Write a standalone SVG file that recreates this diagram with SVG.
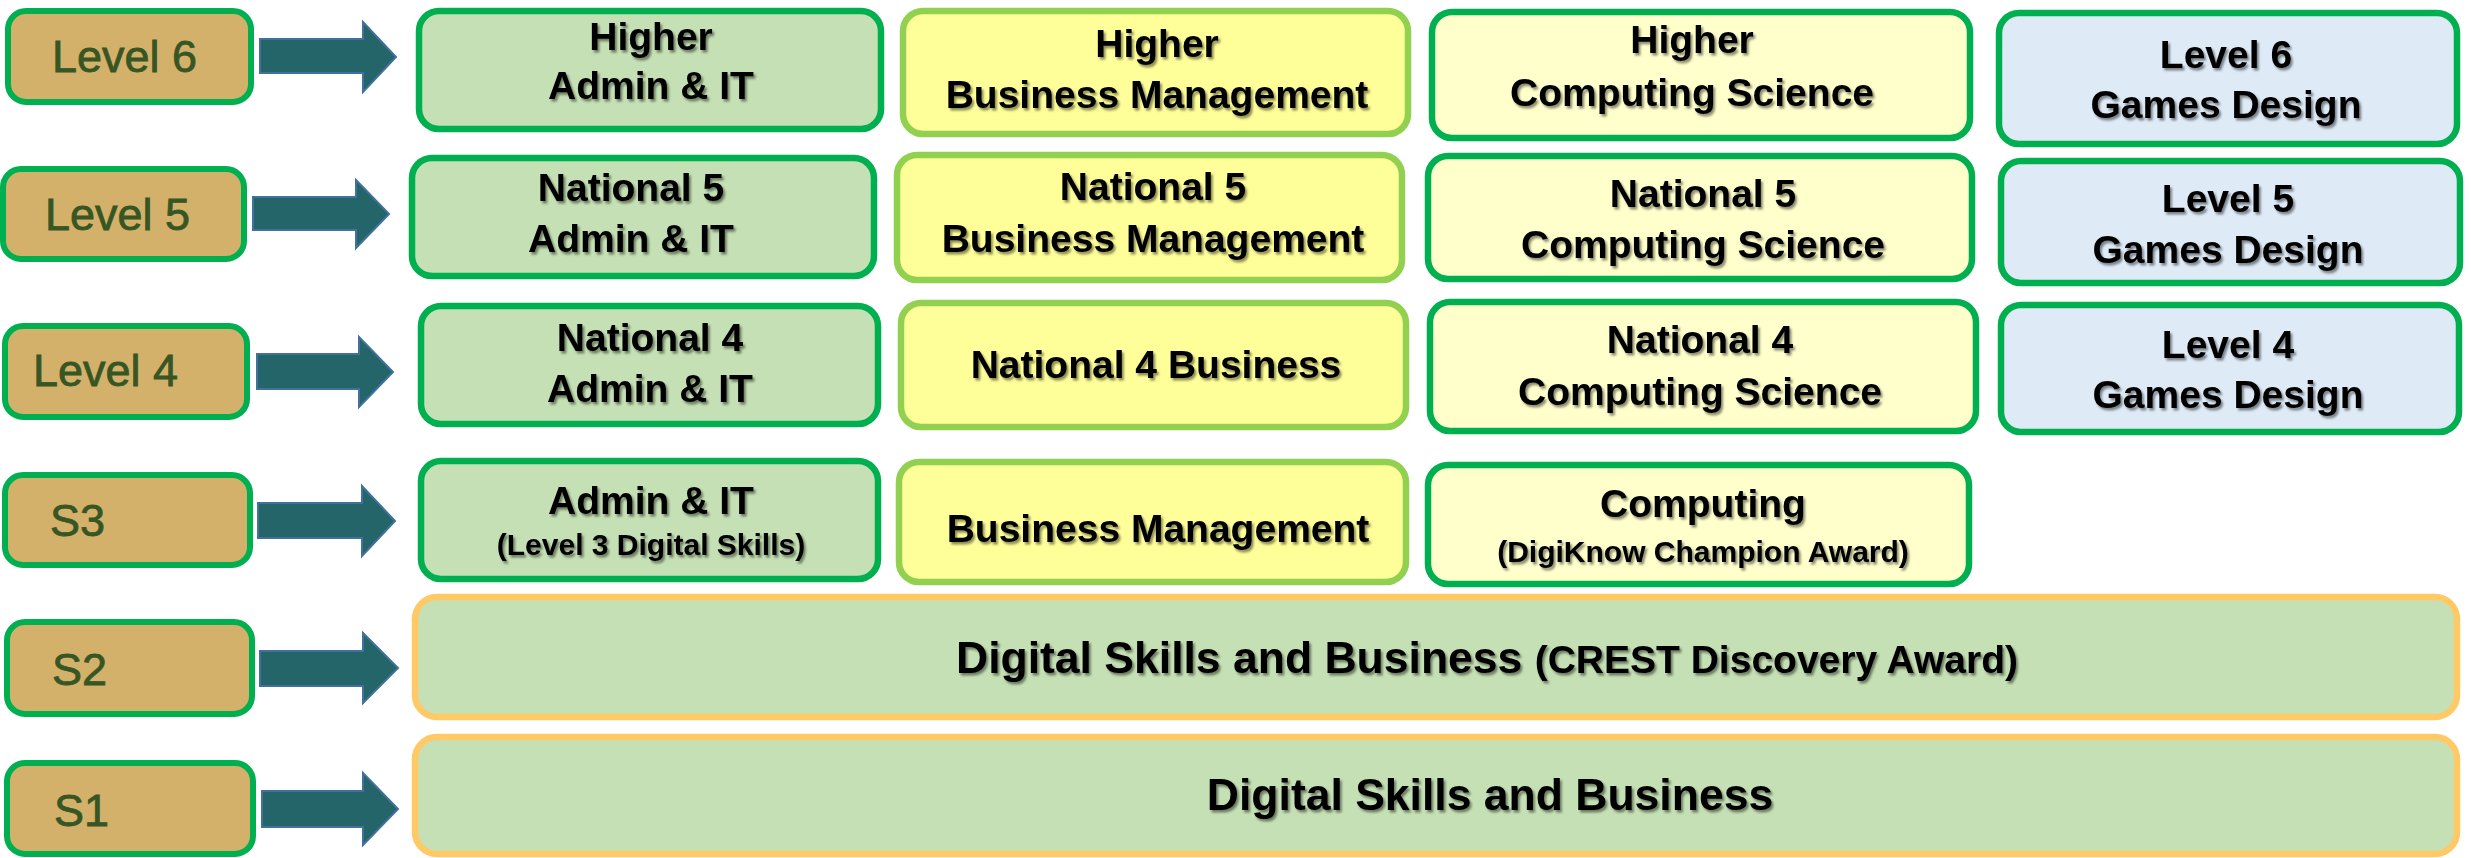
<svg xmlns="http://www.w3.org/2000/svg" width="2471" height="858" viewBox="0 0 2471 858">
<defs>
<filter id="sh" x="-10%" y="-30%" width="120%" height="160%">
<feDropShadow dx="2" dy="2.5" stdDeviation="1.2" flood-color="#000" flood-opacity="0.45"/>
</filter>
<style>
.lbl{fill:#D4B16A;stroke:#00B050;stroke-width:6}
.adm{fill:#C5E0B4;stroke:#00B050;stroke-width:6.5}
.bus{fill:#FFFF99;stroke:#92D050;stroke-width:6.5}
.cmp{fill:#FFFFCC;stroke:#00B050;stroke-width:6.5}
.gam{fill:#DEEBF7;stroke:#00B050;stroke-width:6.5}
.big{fill:#C5E0B4;stroke:#FFC966;stroke-width:6.5}
.arr{fill:#236568;stroke:#41719C;stroke-width:2}
.lt{font-family:"Liberation Sans",Arial,sans-serif;font-size:45px;fill:#375623;stroke:#375623;stroke-width:0.8}
.t{font-family:"Liberation Sans",Arial,sans-serif;font-weight:bold;font-size:39px;fill:#000;text-anchor:middle;filter:url(#sh)}
.s{font-size:30px}
.bt{font-size:44.5px}
</style>
</defs>

<g id="connectors">
<polygon class="arr" points="260,39 363,39 363,22 396,57 363,92 363,73 260,73"/>
<polygon class="arr" points="253,197 356,197 356,180 389,214 356,248 356,230 253,230"/>
<polygon class="arr" points="257,354 359,354 359,337 393,372 359,407 359,389 257,389"/>
<polygon class="arr" points="258,503 362,503 362,486 395,521 362,556 362,538 258,538"/>
<polygon class="arr" points="260,651 363,651 363,633 398,668 363,703 363,686 260,686"/>
<polygon class="arr" points="262,791 363,791 363,773 398,809 363,845 363,827 262,827"/>
</g>

<g id="label-level6"><rect class="lbl" x="8" y="11" width="243" height="91" rx="18"/><text class="lt" x="52" y="72">Level 6</text></g>
<g id="label-level5"><rect class="lbl" x="3" y="169" width="241" height="90" rx="18"/><text class="lt" x="45" y="230">Level 5</text></g>
<g id="label-level4"><rect class="lbl" x="5" y="326" width="242" height="91" rx="18"/><text class="lt" x="33" y="386">Level 4</text></g>
<g id="label-s3"><rect class="lbl" x="5" y="475" width="245" height="90" rx="18"/><text class="lt" x="50" y="536">S3</text></g>
<g id="label-s2"><rect class="lbl" x="7" y="622" width="245" height="92" rx="18"/><text class="lt" x="52" y="685">S2</text></g>
<g id="label-s1"><rect class="lbl" x="7" y="763" width="246" height="91" rx="18"/><text class="lt" x="54" y="826">S1</text></g>

<g id="higher-admin"><rect class="adm" x="419" y="11" width="462" height="118" rx="20"/><text class="t" x="651" y="50">Higher</text><text class="t" x="651" y="99">Admin &amp; IT</text></g>
<g id="higher-business"><rect class="bus" x="903" y="11" width="505" height="123" rx="20"/><text class="t" x="1157" y="57">Higher</text><text class="t" x="1157" y="108">Business Management</text></g>
<g id="higher-computing"><rect class="cmp" x="1432" y="12" width="538" height="126" rx="20"/><text class="t" x="1692" y="53">Higher</text><text class="t" x="1692" y="106">Computing Science</text></g>
<g id="level6-games"><rect class="gam" x="1999" y="13" width="458" height="131" rx="20"/><text class="t" x="2226" y="68">Level 6</text><text class="t" x="2226" y="118">Games Design</text></g>

<g id="n5-admin"><rect class="adm" x="412" y="158" width="462" height="118" rx="20"/><text class="t" x="631" y="201">National 5</text><text class="t" x="631" y="252">Admin &amp; IT</text></g>
<g id="n5-business"><rect class="bus" x="897" y="155" width="505" height="125" rx="20"/><text class="t" x="1153" y="200">National 5</text><text class="t" x="1153" y="252">Business Management</text></g>
<g id="n5-computing"><rect class="cmp" x="1428" y="156" width="544" height="123" rx="20"/><text class="t" x="1703" y="207">National 5</text><text class="t" x="1703" y="258">Computing Science</text></g>
<g id="level5-games"><rect class="gam" x="2001" y="161" width="459" height="122" rx="20"/><text class="t" x="2228" y="212">Level 5</text><text class="t" x="2228" y="263">Games Design</text></g>

<g id="n4-admin"><rect class="adm" x="421" y="306" width="457" height="118" rx="20"/><text class="t" x="650" y="351">National 4</text><text class="t" x="650" y="402">Admin &amp; IT</text></g>
<g id="n4-business"><rect class="bus" x="901" y="303" width="505" height="124" rx="20"/><text class="t" x="1156" y="378">National 4 Business</text></g>
<g id="n4-computing"><rect class="cmp" x="1430" y="302" width="546" height="129" rx="20"/><text class="t" x="1700" y="353">National 4</text><text class="t" x="1700" y="405">Computing Science</text></g>
<g id="level4-games"><rect class="gam" x="2001" y="305" width="458" height="127" rx="20"/><text class="t" x="2228" y="358">Level 4</text><text class="t" x="2228" y="408">Games Design</text></g>

<g id="s3-admin"><rect class="adm" x="421" y="461" width="457" height="118" rx="20"/><text class="t" x="651" y="514">Admin &amp; IT</text><text class="t s" x="651" y="555">(Level 3 Digital Skills)</text></g>
<g id="s3-business"><rect class="bus" x="899" y="462" width="507" height="120" rx="20"/><text class="t" x="1158" y="542">Business Management</text></g>
<g id="s3-computing"><rect class="cmp" x="1428" y="465" width="541" height="119" rx="20"/><text class="t" x="1703" y="517">Computing</text><text class="t s" x="1703" y="562">(DigiKnow Champion Award)</text></g>

<g id="s2-digital"><rect class="big" x="415" y="597" width="2042" height="120" rx="22"/><text class="t" x="1487" y="673"><tspan class="bt">Digital Skills and Business </tspan>(CREST Discovery Award)</text></g>
<g id="s1-digital"><rect class="big" x="415" y="737" width="2042" height="117" rx="22"/><text class="t bt" x="1490" y="810">Digital Skills and Business</text></g>
</svg>
